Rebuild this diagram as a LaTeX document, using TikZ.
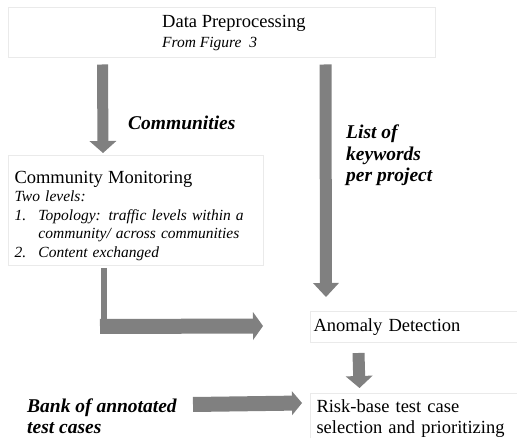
\documentclass[tikz,border=0pt]{standalone}
\usepackage{fontspec}
\setmainfont{Liberation Serif}
\usetikzlibrary{arrows.meta}
\definecolor{arrowgray}{RGB}{128,128,128}
\definecolor{boxline}{RGB}{234,234,234}
\tikzstyle{box}=[draw=boxline, line width=1pt, fill=white, inner ysep=0pt, align=left, font=\fontsize{18.5}{21}\selectfont]
\tikzstyle{tag}=[inner sep=0pt, align=left, anchor=base west, font=\fontsize{19.5}{21.5}\selectfont\bfseries\itshape]
\tikzstyle{fat}=[draw=arrowgray, line width=12pt, -{Triangle[length=12pt, width=27pt, line width=0pt]}]

\begin{document}
\begin{tikzpicture}[x=1pt, y=-1pt]
\useasboundingbox (0,0) rectangle (517,438);
\clip (0,0) rectangle (517,438);
% Boxes
    \node[box, minimum width=427pt, minimum height=50pt] (prep) at (221.5,33) {};
    \node[inner sep=0pt, anchor=base west, align=left, font=\fontsize{18.5}{20}\selectfont] (preptext) at (162,48) {Data Preprocessing\\ {\itshape\fontsize{15.5}{20}\selectfont From Figure\ \ 3}};
    \node[box, anchor=north west, minimum width=255pt, minimum height=110pt, text width=243pt, inner xsep=6pt, font=\fontsize{15.5}{18.5}\selectfont\itshape] (monitor) at (8,155)
        {{\upshape\fontsize{18.5}{18.5}\selectfont\rule{0pt}{23pt}Community Monitoring}\\
         Two levels:\\
         \makebox[24pt][l]{1.}Topology: traffic levels within a\\
         \hspace*{24pt}community/ across communities\\
         \makebox[24pt][l]{2.}Content exchanged};
    \node[box, anchor=north west, minimum width=215pt, minimum height=31pt, text width=209pt, inner xsep=3pt] (anomaly) at (310,311) {Anomaly Detection};
    \node[box, anchor=north west, minimum width=217pt, minimum height=51pt, text width=205pt, inner xsep=6pt] (risk) at (310,393) {Risk-base test case\\ selection and prioritizing};
% Labels
    \node[tag] (comm) at (128,130) {Communities};
    \node[tag] (keywords) at (346,182) {List of\\ keywords\\ per project};
    \node[tag, font=\fontsize{19.5}{21}\selectfont\bfseries\itshape] (bank) at (27,433) {Bank of annotated\\ test cases};
% Arrows
    \draw[fat, line width=11pt] ([xshift=-119pt, yshift=-6pt]prep.south) -- ([xshift=-33pt, yshift=2pt]monitor.north);
    \draw[fat, line width=12pt, -{Triangle[length=14pt, width=26pt, line width=0pt]}] ([xshift=104pt, yshift=-6pt]prep.south) -- ([xshift=-92pt, yshift=14pt]anomaly.north);
    \draw[draw=arrowgray, line width=6pt] ([xshift=-32pt, yshift=-2pt]monitor.south) -- ++(0,66);
    \coordinate (elbow) at ([xshift=-36pt, yshift=-60.5pt]monitor.south);
    \draw[fat, line width=15pt, -{Triangle[length=10pt, width=28pt, line width=0pt]}] (elbow) -- ([xshift=-47pt, yshift=1pt]anomaly.west);
    \draw[fat] ([xshift=-59.5pt, yshift=-10pt]anomaly.south) -- ([xshift=-59.5pt, yshift=5pt]risk.north);
    \coordinate (bankout) at (193,404.5);
    \draw[fat, line width=15pt, -{Triangle[length=10pt, width=24pt, line width=0pt]}] (bankout) -- ([xshift=-8pt, yshift=16pt]risk.west);
\end{tikzpicture}
\end{document}
